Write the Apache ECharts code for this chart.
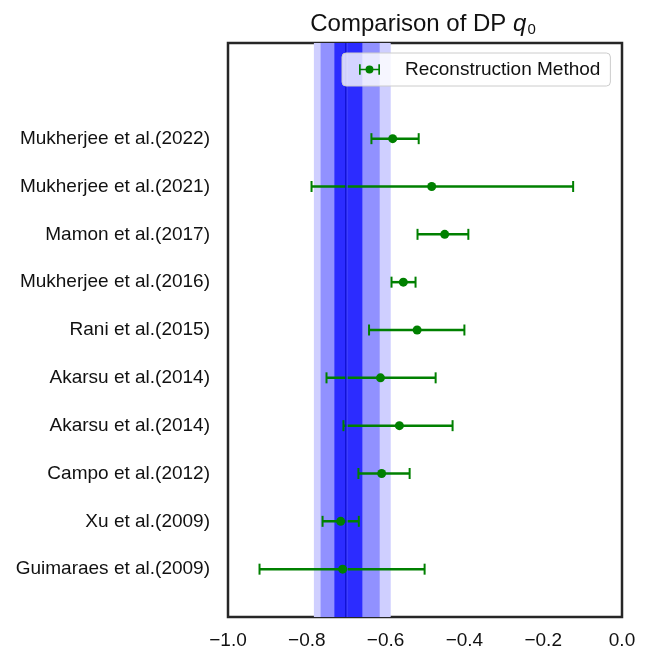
<!DOCTYPE html>
<html>
<head>
<meta charset="utf-8">
<style>
  html, body { margin: 0; padding: 0; background: #ffffff; }
  #chart { width: 646px; height: 653px; }
</style>
<script src="https://cdn.jsdelivr.net/npm/echarts@6/dist/echarts.min.js"></script>
</head>
<body>
<div id="chart"></div>
<script>
// Measurements of the deceleration parameter q0, bottom row first
const studies = [
  'Guimaraes et al.(2009)',
  'Xu et al.(2009)',
  'Campo et al.(2012)',
  'Akarsu et al.(2014)',
  'Akarsu et al.(2014)',
  'Rani et al.(2015)',
  'Mukherjee et al.(2016)',
  'Mamon et al.(2017)',
  'Mukherjee et al.(2021)',
  'Mukherjee et al.(2022)'
];
const q0Central = [-0.709, -0.714, -0.610, -0.565, -0.613, -0.520, -0.555, -0.450, -0.483, -0.582];
const q0Lower   = [-0.920, -0.760, -0.669, -0.707, -0.750, -0.642, -0.585, -0.519, -0.788, -0.636];
const q0Upper   = [-0.501, -0.668, -0.539, -0.430, -0.473, -0.400, -0.524, -0.390, -0.124, -0.516];

// DP model result: best fit and its 3, 2, 1 sigma intervals
const dpBest = -0.701;
const dpSigma3 = [-0.782, -0.587];
const dpSigma2 = [-0.765, -0.615];
const dpSigma1 = [-0.730, -0.659];

const xTicks = [-1.0, -0.8, -0.6, -0.4, -0.2, 0.0];

const bandColors = ['#cfcfff', '#9191ff', '#2c2cff'];
const green = '#008000';
const font = 'Liberation Sans, Arial, Helvetica, sans-serif';
const ink = '#111111';

const Y_MIN = -1, Y_MAX = 11;

const chart = echarts.init(document.getElementById('chart'), null, { renderer: 'canvas' });

const bandData = [dpSigma3, dpSigma2, dpSigma1];
const errData = studies.map((s, i) => [q0Lower[i], q0Upper[i], i]);
const pointData = studies.map((s, i) => [q0Central[i], i]);

// Legend glyph: an error bar with caps and a dot
const errIcon = 'path://M0,0 h1.6 v10 h-1.6 Z M18.4,0 h1.6 v10 h-1.6 Z M0,4.2 h20 v1.6 h-20 Z ' +
  'M6.2,5 a3.8,3.8 0 1,1 7.6,0 a3.8,3.8 0 1,1 -7.6,0 Z';

chart.setOption({
  animation: false,
  backgroundColor: '#ffffff',
  title: {
    text: '{a|Comparison of DP }{q|q}{s|0}',
    left: 418,
    top: 7,
    textAlign: 'center',
    textStyle: {
      rich: {
        a: { fontFamily: font, fontSize: 24, fontWeight: 'normal', color: ink },
        q: { fontFamily: font, fontSize: 24, fontWeight: 'normal', fontStyle: 'italic', color: ink },
        s: { fontFamily: font, fontSize: 15, fontWeight: 'normal', color: ink, verticalAlign: 'bottom', padding: [10, 0, 0, 1] }
      }
    }
  },
  legend: {
    left: 342,
    top: 53,
    orient: 'vertical',
    backgroundColor: 'rgba(255,255,255,0.8)',
    borderColor: '#cccccc',
    borderWidth: 1,
    borderRadius: 4,
    padding: [7, 10, 7, 17],
    itemWidth: 21,
    itemHeight: 11,
    data: [{ name: 'Reconstruction Method', icon: errIcon, itemStyle: { color: green } }],
    textStyle: { fontFamily: font, fontSize: 19, color: ink, padding: [0, 0, 0, 20] }
  },
  grid: {
    left: 228, right: 24, top: 43, bottom: 36,
    show: true,
    borderColor: '#262626',
    borderWidth: 2.5,
    backgroundColor: 'transparent'
  },
  xAxis: {
    type: 'value',
    min: -1.0, max: 0.0, interval: 0.2,
    axisLine: { show: false },
    axisTick: { show: false },
    splitLine: { show: false },
    axisLabel: {
      margin: 14,
      fontFamily: font, fontSize: 19, color: ink,
      formatter: v => {
        const t = xTicks.find(x => Math.abs(x - v) < 1e-6);
        if (t === undefined) return '';
        return (t < 0 ? '\u2212' : '') + Math.abs(t).toFixed(1);
      }
    }
  },
  yAxis: {
    type: 'value',
    min: Y_MIN, max: Y_MAX, interval: 1,
    axisLine: { show: false },
    axisTick: { show: false },
    splitLine: { show: false },
    axisLabel: {
      margin: 18,
      fontFamily: font, fontSize: 19, color: ink,
      formatter: v => (v >= 0 && v < studies.length) ? studies[v] : ''
    }
  },
  series: [
    {
      // confidence bands of the DP model
      type: 'custom',
      z: 1,
      silent: true,
      data: bandData,
      encode: { x: [0, 1] },
      renderItem: (params, api) => {
        const p0 = api.coord([api.value(0), Y_MAX]);
        const p1 = api.coord([api.value(1), Y_MIN]);
        return {
          type: 'rect',
          shape: { x: p0[0], y: p0[1], width: p1[0] - p0[0], height: p1[1] - p0[1] },
          style: { fill: bandColors[params.dataIndex] }
        };
      }
    },
    {
      // horizontal error bars with caps
      type: 'custom',
      z: 2,
      silent: true,
      data: errData,
      encode: { x: [0, 1], y: 2 },
      renderItem: (params, api) => {
        const a = api.coord([api.value(0), api.value(2)]);
        const b = api.coord([api.value(1), api.value(2)]);
        const cap = 5.5;
        const st = { stroke: green, lineWidth: 2.5 };
        return {
          type: 'group',
          children: [
            { type: 'line', shape: { x1: a[0], y1: a[1], x2: b[0], y2: b[1] }, style: st },
            { type: 'line', shape: { x1: a[0], y1: a[1] - cap, x2: a[0], y2: a[1] + cap }, style: { stroke: green, lineWidth: 2 } },
            { type: 'line', shape: { x1: b[0], y1: b[1] - cap, x2: b[0], y2: b[1] + cap }, style: { stroke: green, lineWidth: 2 } }
          ]
        };
      }
    },
    {
      // best-fit DP value
      type: 'custom',
      z: 3,
      silent: true,
      data: [[dpBest]],
      encode: { x: 0 },
      renderItem: (params, api) => {
        const p0 = api.coord([api.value(0), Y_MAX]);
        const p1 = api.coord([api.value(0), Y_MIN]);
        return {
          type: 'group',
          children: [
            { type: 'line', shape: { x1: p0[0] + 1.2, y1: p0[1], x2: p1[0] + 1.2, y2: p1[1] }, style: { stroke: '#4a4aff', lineWidth: 1.2 } },
            { type: 'line', shape: { x1: p0[0], y1: p0[1], x2: p1[0], y2: p1[1] }, style: { stroke: '#0c0ccc', lineWidth: 1.2 } }
          ]
        };
      }
    },
    {
      name: 'Reconstruction Method',
      type: 'scatter',
      z: 4,
      symbol: 'circle',
      symbolSize: 9,
      itemStyle: { color: green, opacity: 1 },
      data: pointData
    }
  ]
});
</script>
</body>
</html>
